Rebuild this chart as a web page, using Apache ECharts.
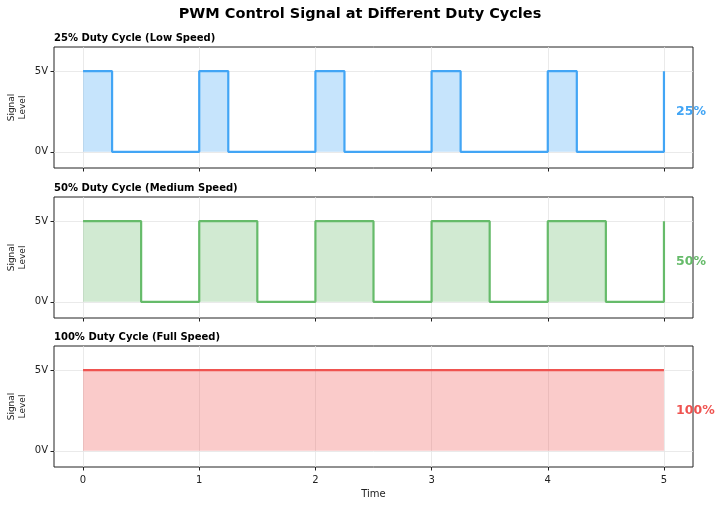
<!DOCTYPE html>
<html>
<head>
<meta charset="utf-8">
<script src="https://cdn.jsdelivr.net/npm/echarts@6/dist/echarts.min.js"></script>
<style>html,body{margin:0;padding:0;background:#fff;}#c{width:720px;height:507px;}</style>
</head>
<body>
<div id="c"></div>
<script>
const mainTitle = 'PWM Control Signal at Different Duty Cycles';
const panelTitles = ['25% Duty Cycle (Low Speed)', '50% Duty Cycle (Medium Speed)', '100% Duty Cycle (Full Speed)'];
const dutyLabels = ['25%', '50%', '100%'];
const colors = ['#42A5F5', '#66BB6A', '#EF5350'];
const fills = ['rgba(66,165,245,0.3)', 'rgba(102,187,106,0.3)', 'rgba(239,83,80,0.3)'];

const time25 = [0, 0.25, 1, 1.25, 2, 2.25, 3, 3.25, 4, 4.25, 5];
const level25 = [5, 0, 5, 0, 5, 0, 5, 0, 5, 0, 5];
const time50 = [0, 0.5, 1, 1.5, 2, 2.5, 3, 3.5, 4, 4.5, 5];
const level50 = [5, 0, 5, 0, 5, 0, 5, 0, 5, 0, 5];
const time100 = [0, 5];
const level100 = [5, 5];

const xTicks = [0, 1, 2, 3, 4, 5];
const yTicks = [0, 5];
const yTickLabels = ['0V', '5V'];
const labelPos = [5.1, 2.5];

const times = [time25, time50, time100];
const levels = [level25, level50, level100];

const gridTops = [47, 197, 346];
const gridH = 121;
const font = 'DejaVu Sans';

const grids = gridTops.map(t => ({
  left: 54, right: 27, top: t, height: gridH, outerBoundsMode: 'none', containLabel: false,
  show: true, borderColor: '#222', borderWidth: 1, backgroundColor: 'transparent'
}));

const xAxes = gridTops.map((t, i) => ({
  type: 'value', gridIndex: i, min: -0.25, max: 5.25, position: 'bottom',
  axisLine: { show: false, onZero: false },
  axisTick: { show: true, length: 3.5, inside: false, lineStyle: { color: '#222' }, customValues: xTicks },
  axisLabel: { show: i === 2, customValues: xTicks, fontFamily: font, fontSize: 10, color: '#222', margin: 8 },
  splitLine: { show: true, lineStyle: { color: '#e5e5e5', width: 0.8 } },
  name: i === 2 ? 'Time' : '', nameLocation: 'middle', nameGap: 22, nameMoveOverlap: false,
  nameTextStyle: { fontFamily: font, fontSize: 10, color: '#222' }
}));

const yAxes = gridTops.map((t, i) => ({
  type: 'value', gridIndex: i, min: -1, max: 6.5, position: 'left',
  axisLine: { show: false, onZero: false },
  axisTick: { show: true, length: 3.5, lineStyle: { color: '#222' }, customValues: yTicks },
  axisLabel: {
    customValues: yTicks, fontFamily: font, fontSize: 10, color: '#222', margin: 6,
    formatter: v => yTickLabels[yTicks.indexOf(v)]
  },
  splitLine: { show: true, lineStyle: { color: '#e5e5e5', width: 0.8 } },
  name: 'Signal\nLevel', nameLocation: 'middle', nameGap: 26, nameRotate: 90, nameMoveOverlap: false,
  nameTextStyle: { fontFamily: font, fontSize: 9, color: '#222', lineHeight: 11 }
}));

const series = [];
for (let i = 0; i < 3; i++) {
  series.push({
    type: 'line', xAxisIndex: i, yAxisIndex: i, step: 'end', symbol: 'none',
    data: times[i].map((t, k) => [t, levels[i][k]]),
    lineStyle: { color: colors[i], width: 2.2 },
    itemStyle: { color: colors[i] },
    areaStyle: { color: fills[i], opacity: 1, origin: 0 },
    silent: true, animation: false
  });
  series.push({
    type: 'scatter', xAxisIndex: i, yAxisIndex: i, symbolSize: 1,
    itemStyle: { color: 'rgba(0,0,0,0)' }, clip: false,
    data: [labelPos],
    label: {
      show: true, position: 'right', distance: 0, opacity: 1,
      formatter: dutyLabels[i], color: colors[i], fontFamily: font, fontSize: 12.5, fontWeight: 'bold'
    },
    labelLayout: { hideOverlap: false },
    silent: true, animation: false
  });
}

const titles = [{
  text: mainTitle, left: 'center', top: 2,
  textStyle: { fontFamily: font, fontSize: 14.5, fontWeight: 'bold', color: '#000' }
}].concat(panelTitles.map((p, i) => ({
  text: p, left: 49, top: gridTops[i] - 19,
  textStyle: { fontFamily: font, fontSize: 10, fontWeight: 'bold', color: '#000' }
})));

const chart = echarts.init(document.getElementById('c'), null, { renderer: 'canvas' });
chart.setOption({
  animation: false,
  backgroundColor: '#fff',
  title: titles,
  grid: grids,
  xAxis: xAxes,
  yAxis: yAxes,
  series: series
});
</script>
</body>
</html>
